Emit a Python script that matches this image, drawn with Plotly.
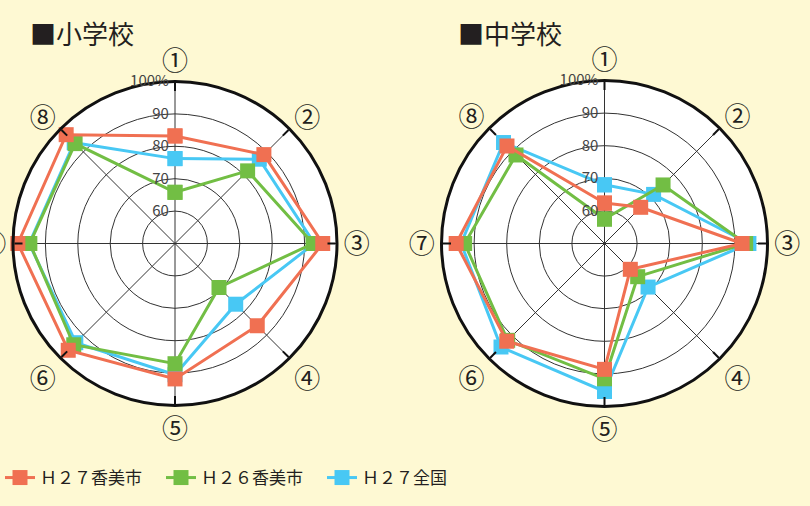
import plotly.graph_objects as go

# ---- data ----
axes_labels = ["①", "②", "③", "④", "⑤", "⑥", "⑦", "⑧"]
series_names = ["Ｈ２７香美市", "Ｈ２６香美市", "Ｈ２７全国"]
series_colors = ["#F07052", "#72BE44", "#48C8F4"]

elem_h27_kami = [83.2, 88.8, 95.6, 85.9, 91.8, 96.6, 98.5, 97.5]
elem_h26_kami = [65.8, 81.7, 92.6, 69.2, 87.1, 94.2, 94.8, 93.6]
elem_h27_nat = [76.2, 86.8, 93.0, 76.5, 90.5, 93.3, 95.0, 94.0]

jhs_h27_kami = [62.4, 65.7, 92.2, 61.2, 88.6, 92.4, 95.5, 92.3]
jhs_h26_kami = [57.5, 75.4, 93.3, 64.4, 91.5, 92.0, 92.9, 88.4]
jhs_h27_nat = [68.0, 71.3, 94.3, 68.9, 95.4, 94.9, 94.0, 93.8]

radial_tickvals = [60, 70, 80, 90, 100]
radial_ticktext = ["60\u00a0", "70\u00a0", "80\u00a0", "90\u00a0", "100%\u00a0"]
titles = ["■小学校", "■中学校"]

W, H = 810, 506
FONT = "Noto Sans CJK JP"
BG = "#FEF9D3"

fig = go.Figure()

groups = [
    ("polar", [elem_h27_nat, elem_h26_kami, elem_h27_kami]),
    ("polar2", [jhs_h27_nat, jhs_h26_kami, jhs_h27_kami]),
]
order = [2, 1, 0]  # draw national first, then H26, then H27 on top
for gi, (sub, vals_list) in enumerate(groups):
    for k, vals in zip(order, vals_list):
        r = list(vals) + [vals[0]]
        th = axes_labels + [axes_labels[0]]
        fig.add_trace(go.Scatterpolar(
            r=r, theta=th, subplot=sub, mode="lines+markers",
            name=series_names[k],
            line=dict(color=series_colors[k], width=3),
            marker=dict(symbol="square", size=15, color=series_colors[k]),
            showlegend=(gi == 0),
            legendrank=k + 1,
        ))


def polar_layout(cx, cy, rad):
    return dict(
        domain=dict(x=[(cx - rad) / W, (cx + rad) / W],
                    y=[1 - (cy + rad) / H, 1 - (cy - rad) / H]),
        bgcolor="white",
        radialaxis=dict(
            range=[50, 100], angle=90, tickangle=90, side="counterclockwise",
            tickvals=radial_tickvals, ticktext=radial_ticktext,
            tickfont=dict(family=FONT, size=15, color="#444"),
            showline=False, ticks="", gridcolor="#333", gridwidth=1,
        ),
        angularaxis=dict(
            type="category", categoryarray=axes_labels,
            direction="clockwise", rotation=90,
            tickfont=dict(family=FONT, size=26, color="#231F20"),
            linecolor="#111", linewidth=3, showline=True,
            gridcolor="#333", gridwidth=1,
            ticks="inside", ticklen=8, tickwidth=2, tickcolor="#111",
        ),
    )


fig.update_layout(
    width=W, height=H,
    margin=dict(l=0, r=0, t=0, b=0),
    paper_bgcolor=BG,
    polar=polar_layout(175, 243.5, 162),
    polar2=polar_layout(604.5, 243.5, 163),
    legend=dict(
        orientation="h", x=0, xanchor="left", y=1 - 478 / H, yanchor="middle",
        font=dict(family=FONT, size=17, color="#231F20"),
        bgcolor="rgba(0,0,0,0)", entrywidth=116, entrywidthmode="pixels",
        traceorder="normal",
    ),
    annotations=[
        dict(text=titles[0], x=28 / W, y=1 - 33 / H, xref="paper", yref="paper",
             xanchor="left", yanchor="middle", showarrow=False,
             font=dict(family=FONT, size=26, color="#231F20")),
        dict(text=titles[1], x=456 / W, y=1 - 33 / H, xref="paper", yref="paper",
             xanchor="left", yanchor="middle", showarrow=False,
             font=dict(family=FONT, size=26, color="#231F20")),
    ],
)

fig.write_html("out.html", config={"displayModeBar": False},
               post_script="document.body.style.margin='0';")
